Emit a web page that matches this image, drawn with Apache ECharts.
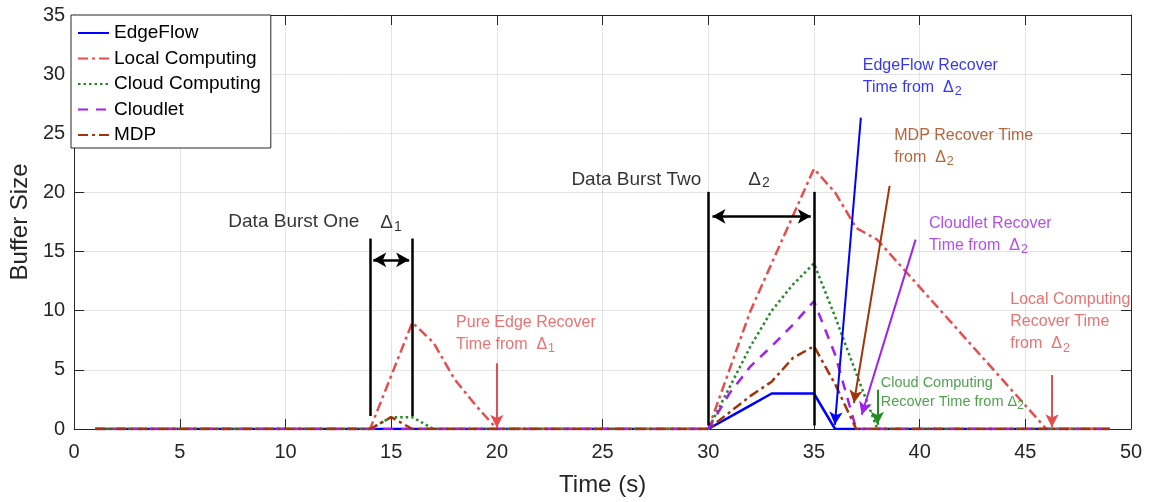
<!DOCTYPE html>
<html><head><meta charset="utf-8">
<script src="https://cdn.jsdelivr.net/npm/echarts@6/dist/echarts.min.js"></script>
<style>html,body{margin:0;padding:0;background:#fff}#c{width:1149px;height:502px}</style>
</head><body><div id="c"></div>
<script>
// ---------- data ----------
const timeS = [1,2,3,4,5,6,7,8,9,10,11,12,13,14,15,16,17,18,19,20,21,22,23,24,25,26,27,28,29,30,31,32,33,34,35,36,37,38,39,40,41,42,43,44,45,46,47,48,49];
const edgeFlow =       [0,0,0,0,0,0,0,0,0,0,0,0,0,0,0,0,0,0,0,0,0,0,0,0,0,0,0,0,0,0, 1,2,3,3,3,0,0,0,0,0,0,0,0,0,0,0,0,0,0];
const localComputing = [0,0,0,0,0,0,0,0,0,0,0,0,0,0, 4.5,9,7.3,4.2,2,0, 0,0,0,0,0,0,0,0,0,0, 5,10,14,18,22,20,17,16,14,12,10,8,6,4,2,0,0,0,0];
const cloudComputing = [0,0,0,0,0,0,0,0,0,0,0,0,0,0, 1,1,0, 0,0,0,0,0,0,0,0,0,0,0,0,0, 3.5,7,10,12.2,14,9.5,4.7,0, 0,0,0,0,0,0,0,0,0,0,0];
const cloudlet =       [0,0,0,0,0,0,0,0,0,0,0,0,0,0,0,0,0,0,0,0,0,0,0,0,0,0,0,0,0,0, 3,5.3,7,8.8,10.8,6.3,0, 0,0,0,0,0,0,0,0,0,0,0,0];
const mdp =            [0,0,0,0,0,0,0,0,0,0,0,0,0,0, 1,0, 0,0,0,0,0,0,0,0,0,0,0,0,0,0, 1.4,2.8,4,6,7,3.8,0, 0,0,0,0,0,0,0,0,0,0,0,0];
const seriesNames = ['EdgeFlow','Local Computing','Cloud Computing','Cloudlet','MDP'];
const xTicks = {min:0, max:50, step:5};
const yTicks = {min:0, max:35, step:5};

// annotation geometry (data coordinates)
const burstMarkers = [[14,1.1,14,16.1],[16,1.1,16,16.1],[30,0.3,30,20.05],[35,0.3,35,20.05]];
const burstSpans = [[14.15,14.3,15.85,14.3],[30.2,17.98,34.85,17.98]];
const recoverArrows = [[20,5.55,20,0.1],[37.22,26.33,35.99,0.35],[38.58,20.55,36.89,2.19],[39.81,16.01,37.26,1.2],[38.0,3.31,38.0,0.36],[46.26,4.57,46.26,0.14]];
const recoverArrowKeys = ['local','edge','mdp','cloudlet','cloud','local'];
const notes = [
  {text:'Data Burst One', at:[13.49,17.5], key:'black', side:'left', big:true},
  {text:'Δ{b|1}', at:[14.48,17.4], key:'black', side:'right', big:true},
  {text:'Data Burst Two', at:[29.67,21.03], key:'black', side:'left', big:true},
  {text:'Δ{b|2}', at:[31.89,21.1], key:'black', side:'right', big:true},
  {text:'Pure Edge Recover\nTime from  Δ{s|1}', at:[18.07,8.08], key:'local', side:'right'},
  {text:'EdgeFlow Recover\nTime from  Δ{s|2}', at:[37.31,29.82], key:'edge', side:'right'},
  {text:'MDP Recover Time\nfrom  Δ{s|2}', at:[38.8,23.91], key:'mdpText', side:'right'},
  {text:'Cloudlet Recover\nTime from  Δ{s|2}', at:[40.44,16.45], key:'cloudlet', side:'right'},
  {text:'Local Computing\nRecover Time\nfrom  Δ{s|2}', at:[44.29,9.04], key:'local', side:'right'},
  {text:'Cloud Computing\nRecover Time from Δ{c|2}', at:[38.16,3.11], key:'cloud', side:'right', small:true}
];

// ---------- style ----------
const FONT = '"Liberation Sans", Arial, Helvetica, sans-serif';
const AX = '#262626';
const C = {edge:'#0000FF', local:'#E64D4F', cloud:'#228B22', cloudlet:'#A020F0', mdp:'#A2340A', mdpText:'#A4400F', black:'#000000'};
const seriesStyle = [
  {color:C.edge, type:'solid'},
  {color:C.local, type:[10,4,3,4]},
  {color:C.cloud, type:[2.5,3]},
  {color:C.cloudlet, type:[10,8]},
  {color:C.mdp, type:[10,4,3,4]}
];
const seriesData = [edgeFlow, localComputing, cloudComputing, cloudlet, mdp];

function pairs(arr){ return timeS.map((t,i)=>[t,arr[i]]); }

const lineSeries = seriesNames.map((n,i)=>({
  name:n, type:'line', data:pairs(seriesData[i]), symbol:'none', smooth:false,
  color:seriesStyle[i].color,
  lineStyle:{color:seriesStyle[i].color, width:2.5, type:seriesStyle[i].type},
  z:2
}));

const annotSeries = [
  {name:'bursts', type:'line', data:[], z:4, markLine:{silent:true, animation:false, symbol:['none','none'], label:{show:false},
    lineStyle:{color:'#000', width:2.5, type:'solid'},
    data: burstMarkers.map(b=>[{coord:[b[0],b[1]]},{coord:[b[2],b[3]]}])}},
  {name:'spans', type:'line', data:[], z:4, markLine:{silent:true, animation:false, symbol:['arrow','arrow'], symbolSize:[11,13], label:{show:false},
    lineStyle:{color:'#000', width:2.5, type:'solid'},
    data: burstSpans.map(b=>[{coord:[b[0],b[1]]},{coord:[b[2],b[3]]}])}},
  {name:'recover', type:'line', data:[], z:5, markLine:{silent:true, animation:false, symbol:['none','arrow'], symbolSize:[10,13], label:{show:false},
    lineStyle:{width:2, type:'solid'},
    data: recoverArrows.map((b,i)=>[{coord:[b[0],b[1]], lineStyle:{color:C[recoverArrowKeys[i]]}, itemStyle:{color:C[recoverArrowKeys[i]]}},{coord:[b[2],b[3]], itemStyle:{color:C[recoverArrowKeys[i]]}}])}},
  {name:'notes', type:'scatter', symbolSize:0, silent:true, z:6,
    data: notes.map(n=>({value:n.at, label:{show:true, formatter:n.text, color:C[n.key],
      position:n.side, distance:0, align:n.side==='left'?'right':'left',
      fontSize:n.big?19:(n.small?14.5:16), lineHeight:n.small?19:22, fontFamily:FONT,
      rich:{
        s:{fontSize:12.5, lineHeight:6, verticalAlign:'bottom', padding:[0,0,0,1], color:C[n.key], fontFamily:FONT},
        b:{fontSize:14, lineHeight:4, verticalAlign:'bottom', padding:[0,0,0,1], color:C[n.key], fontFamily:FONT},
        c:{fontSize:12, lineHeight:5, verticalAlign:'bottom', padding:[0,0,0,0], color:C[n.key], fontFamily:FONT}
      }}}))}
];

const axisCommon = {
  axisLine:{show:true, onZero:false, lineStyle:{color:AX, width:1}},
  axisTick:{show:true, inside:true, length:10, lineStyle:{color:AX, width:1}}
};

const option = {
  animation:false,
  backgroundColor:'#fff',
  textStyle:{fontFamily:FONT},
  grid:{left:71, right:18, top:15, bottom:71, containLabel:false},
  legend:{
    data:seriesNames, orient:'vertical', left:71, top:15,
    padding:[8,10,3,6], itemGap:5.5, itemWidth:31, itemHeight:14,
    backgroundColor:'#fff', borderColor:AX, borderWidth:1,
    itemStyle:{opacity:0, borderWidth:0},
    textStyle:{fontSize:19, lineHeight:20, color:'#000', fontFamily:FONT},
    selectedMode:false, z:10
  },
  xAxis:[
    Object.assign({type:'value', min:xTicks.min, max:xTicks.max, interval:xTicks.step, position:'bottom',
      axisLabel:{fontSize:20, color:AX, margin:13, fontFamily:FONT},
      splitLine:{show:true, lineStyle:{color:'#e3e3e3', width:1}},
      name:'Time (s)', nameLocation:'middle', nameGap:44,
      nameTextStyle:{fontSize:24, color:AX, fontFamily:FONT}}, axisCommon),
    Object.assign({type:'value', min:xTicks.min, max:xTicks.max, interval:xTicks.step, position:'top',
      axisLabel:{show:false}, splitLine:{show:false}}, axisCommon)
  ],
  yAxis:[
    Object.assign({type:'value', min:yTicks.min, max:yTicks.max, interval:yTicks.step, position:'left',
      axisLabel:{fontSize:20, color:AX, margin:9, fontFamily:FONT},
      splitLine:{show:true, lineStyle:{color:'#e3e3e3', width:1}},
      name:'Buffer Size', nameLocation:'middle', nameGap:37,
      nameTextStyle:{fontSize:24, color:AX, fontFamily:FONT}}, axisCommon),
    Object.assign({type:'value', min:yTicks.min, max:yTicks.max, interval:yTicks.step, position:'right',
      axisLabel:{show:false}, splitLine:{show:false}}, axisCommon)
  ],
  series: lineSeries.concat(annotSeries)
};

const chart = echarts.init(document.getElementById('c'), null, {renderer:'canvas'});
chart.setOption(option);
</script></body></html>
